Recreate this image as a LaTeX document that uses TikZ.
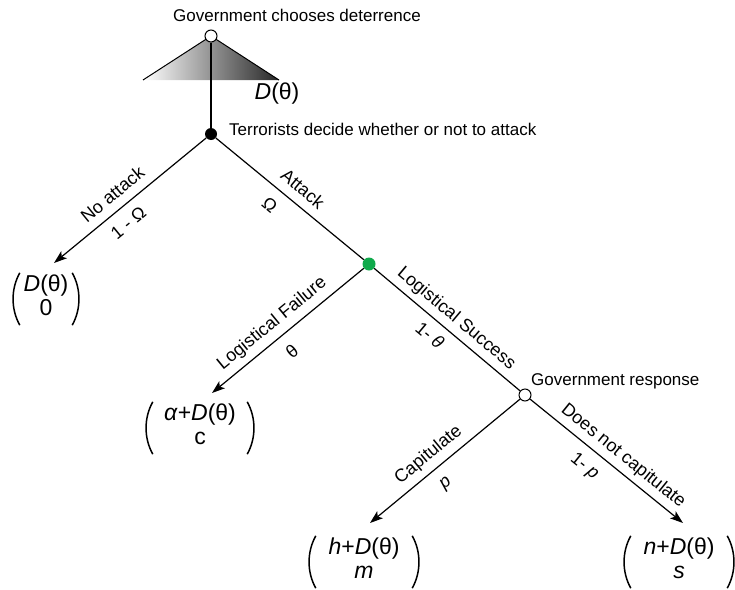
\documentclass[tikz,border=0pt]{standalone}
\usepackage{fontspec}
\setmainfont{Liberation Sans}
\usetikzlibrary{arrows.meta,calc}
\definecolor{dotgreen}{RGB}{16,170,76}
\newcommand{\twolines}[2]{\begin{tabular}{@{}c@{}}#1\\#2\end{tabular}}
\newcommand{\drawparens}[1]{%
  \draw[paren] ($(#1.north west)+(8,0)$) .. controls ($(#1.north west)+(-1,16)$) and ($(#1.south west)+(-1,-16)$) .. ($(#1.south west)+(8,0)$);
  \draw[paren] ($(#1.north east)+(-8,0)$) .. controls ($(#1.north east)+(1,16)$) and ($(#1.south east)+(1,-16)$) .. ($(#1.south east)+(-8,0)$);}
\begin{document}
\begin{tikzpicture}[x=1pt,y=-1pt,
  edge/.style={line width=1.2pt},
  arr/.style={edge,-{Stealth[length=13pt,width=9pt,inset=3pt]}},
  opendot/.style={circle,draw,fill=white,line width=1pt,minimum size=12pt,inner sep=0pt},
  blackdot/.style={circle,fill=black,minimum size=12pt,inner sep=0pt},
  greendot/.style={circle,fill=dotgreen,minimum size=13pt,inner sep=0pt},
  lbl/.style={font=\fontsize{17}{20}\selectfont,inner sep=0pt},
  blbl/.style={font=\fontsize{18}{21}\selectfont,sloped,inner sep=0pt,text height=13pt,text depth=0pt},
  pay/.style={font=\fontsize{23}{24}\selectfont,inner sep=0pt,minimum height=52pt},
  paren/.style={line width=1.5pt}
]
\useasboundingbox (0,0) rectangle (735,589);

% deterrence triangle
\coordinate (apex) at (211,36);
\coordinate (bl) at (143,80);
\coordinate (br) at (279,80);
\shade[left color=white,middle color=black!18,right color=black!85] (apex) -- (br) -- (bl) -- cycle;
\draw[line width=1pt] (bl) -- (apex) -- (br);

% decision nodes
\node[opendot] (gov) at (211,36) {};
\node[blackdot] (terr) at (211,134) {};
\node[greendot] (nat) at (369,264) {};
\node[opendot] (resp) at (525,395) {};

% node labels
\node[lbl] (govlbl) at (297,15) {Government chooses deterrence};
\node[font=\fontsize{23}{24}\selectfont,inner sep=0pt] (dlbl) at (277,94) {\textit{D}(θ)};
\node[lbl,anchor=west] (terrlbl) at (229,129) {Terrorists decide whether or not to attack};
\node[lbl,anchor=west] (resplbl) at (531,381) {Government response};

% payoffs
\node[pay,minimum width=68pt] (p1) at (46,299) {\twolines{\textit{D}(θ)}{0}};
\node[pay,minimum width=110pt] (p2) at (200,428) {\twolines{\textit{α}+\textit{D}(θ)}{c}};
\node[pay,minimum width=112pt] (p3) at (364,562) {\twolines{\textit{h}+\textit{D}(θ)}{\textit{m}}};
\node[pay,minimum width=112pt] (p4) at (679,562) {\twolines{\textit{n}+\textit{D}(θ)}{\textit{s}}};
\drawparens{p1}
\drawparens{p2}
\drawparens{p3}
\drawparens{p4}

% arrow tips
\coordinate (t1) at (54,263);
\coordinate (t2) at (212,393);
\coordinate (t3) at (370,523);
\coordinate (t4) at (683,523);

% connectors
\draw[edge] (gov) -- (terr);
\draw[arr] (terr) -- (t1)
  node[blbl,pos=0.55,above=9pt] {No attack}
  node[blbl,pos=0.58,below=9pt] {1 - Ω};
\draw[edge] (terr) -- (nat)
  node[blbl,pos=0.52,above=9pt] {Attack}
  node[blbl,pos=0.44,below=10pt] {Ω};
\draw[arr] (nat) -- (t2)
  node[blbl,pos=0.54,above=10pt] {Logistical Failure}
  node[blbl,pos=0.55,below=11pt] {θ};
\draw[edge] (nat) -- (resp)
  node[blbl,pos=0.50,above=9pt] {Logistical Success}
  node[blbl,pos=0.45,below=8pt] {1- \textit{θ}};
\draw[arr] (resp) -- (t3)
  node[blbl,pos=0.545,above=10pt] {Capitulate}
  node[blbl,pos=0.57,below=8pt] {\textit{p}};
\draw[arr] (resp) -- (t4)
  node[blbl,pos=0.55,above=9pt] {Does not capitulate}
  node[blbl,pos=0.43,below=9pt] {1- \textit{p}};
\end{tikzpicture}
\end{document}
